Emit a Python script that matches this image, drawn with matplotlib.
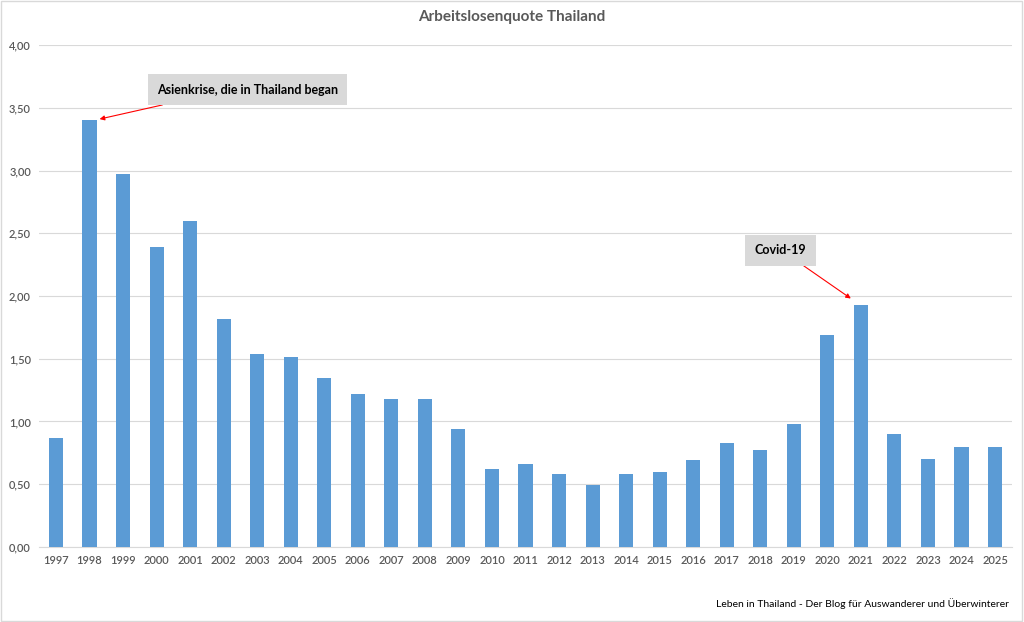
import matplotlib.pyplot as plt
import numpy as np
from matplotlib.patches import Rectangle

years = [str(y) for y in range(1997, 2026)]
rates = [0.87, 3.40, 2.97, 2.39, 2.60, 1.82, 1.54, 1.51, 1.35, 1.22,
         1.18, 1.18, 0.94, 0.62, 0.66, 0.58, 0.49, 0.58, 0.60, 0.69,
         0.83, 0.77, 0.98, 1.69, 1.93, 0.90, 0.70, 0.80, 0.80]
yticks = [0.0, 0.5, 1.0, 1.5, 2.0, 2.5, 3.0, 3.5, 4.0]

plt.rcParams['font.family'] = ['Lato', 'DejaVu Sans']

fig = plt.figure(figsize=(10.24, 6.22), dpi=100)
fig.patch.set_facecolor('white')
ax = fig.add_axes([0.0383, 0.1206, 0.9498, 0.807])

x = np.arange(len(years))
ax.bar(x, rates, width=0.42, color='#5b9bd5', zorder=3)

ax.set_xlim(-0.5, len(years) - 0.5)
ax.set_ylim(0, 4.0)
ax.set_yticks(yticks)
ax.set_yticklabels([f"{v:.2f}".replace('.', ',') for v in yticks])
ax.set_xticks(x)
ax.set_xticklabels(years)
ax.tick_params(axis='both', length=0, labelsize=8, colors='#595959')
ax.tick_params(axis='x', pad=6)
ax.tick_params(axis='y', pad=6)
for lbl in ax.get_xticklabels() + ax.get_yticklabels():
    lbl.set_fontweight('semibold')
ax.grid(axis='y', color='#d9d9d9', lw=0.8, zorder=0)
for s in ['top', 'right', 'left']:
    ax.spines[s].set_visible(False)
ax.spines['bottom'].set_color('#d9d9d9')

fig.text(0.5, 0.972, "Arbeitslosenquote Thailand", ha='center', va='center',
         fontsize=11, fontweight='bold', color='#595959')

# annotations
ax.annotate("Asienkrise, die in Thailand began",
            xy=(1.3, 3.41), xytext=(5.71, 3.645),
            ha='center', va='center', fontsize=9, fontweight='bold',
            bbox=dict(boxstyle='square,pad=0.75', fc='#d9d9d9', ec='none'),
            arrowprops=dict(arrowstyle='-|>', color='red', lw=0.8,
                            mutation_scale=7, shrinkA=0, shrinkB=0,
                            relpos=(0.26, 0.0)),
            zorder=5)
ax.annotate("Covid-19",
            xy=(23.7, 1.98), xytext=(21.6, 2.363),
            ha='center', va='center', fontsize=9, fontweight='bold',
            bbox=dict(boxstyle='square,pad=0.75', fc='#d9d9d9', ec='none'),
            arrowprops=dict(arrowstyle='-|>', color='red', lw=0.8,
                            mutation_scale=7, shrinkA=0, shrinkB=0,
                            relpos=(0.69, 0.0)),
            zorder=5)

fig.text(0.985, 0.029, "Leben in Thailand - Der Blog für Auswanderer und Überwinterer",
         ha='right', va='center', fontsize=7.5, color='black')

fig.add_artist(Rectangle((0.001, 0.001), 0.997, 0.997, transform=fig.transFigure,
                         fill=False, ec='#d9d9d9', lw=1))

fig.savefig('out.png', dpi=100)
